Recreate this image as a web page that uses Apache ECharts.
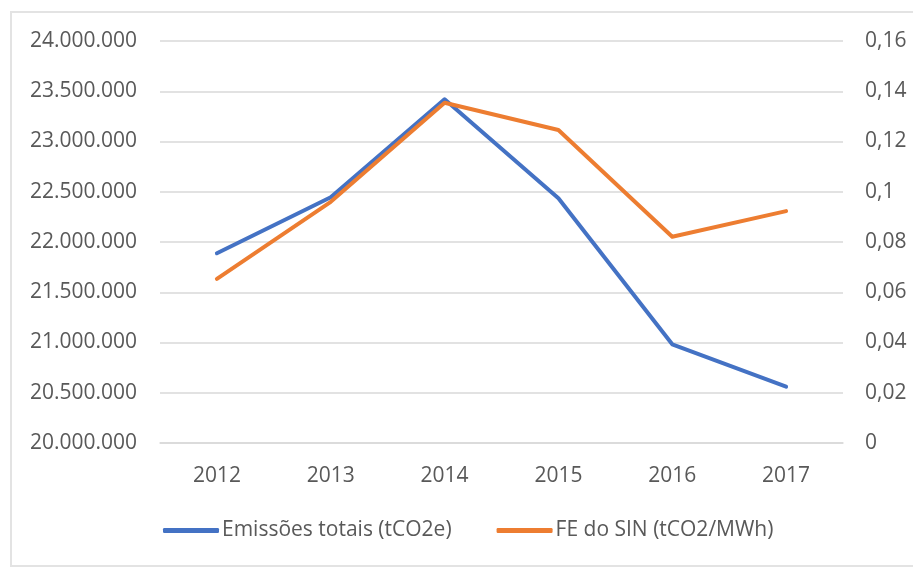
<!DOCTYPE html>
<html>
<head>
<meta charset="utf-8">
<script src="https://cdn.jsdelivr.net/npm/echarts@6/dist/echarts.min.js"></script>
<style>
html,body{margin:0;padding:0;background:#fff;}
#c{width:913px;height:579px;}
</style>
</head>
<body>
<div id="c"></div>
<script>
var categories = ['2012', '2013', '2014', '2015', '2016', '2017'];
var emissoes = [21888000, 22445000, 23420000, 22435000, 20982000, 20560000];
var feSin = [0.0653, 0.0960, 0.1354, 0.1246, 0.0821, 0.0923];
var seriesNames = ['Emissões totais (tCO2e)', 'FE do SIN (tCO2/MWh)'];

var FONT = '"Open Sans", "Liberation Sans", sans-serif';
var TXT = '#595959';

function fmtLeft(v) {
  return String(Math.round(v)).replace(/\B(?=(\d{3})+(?!\d))/g, '.');
}
function fmtRight(v) {
  return String(Math.round(v * 100) / 100).replace('.', ',');
}

var chart = echarts.init(document.getElementById('c'), null, {renderer: 'canvas'});
chart.setOption({
  animation: false,
  backgroundColor: '#fff',
  textStyle: {fontFamily: FONT},
  graphic: [{
    type: 'rect',
    shape: {x: 11, y: 12, width: 910, height: 554},
    style: {fill: 'none', stroke: '#e3e3e3', lineWidth: 2},
    z: -1
  }],
  grid: {left: 160, right: 70, top: 41, bottom: 136},
  legend: {
    left: 163,
    top: 520,
    padding: 0,
    itemWidth: 56,
    itemHeight: 5,
    itemGap: 45,
    icon: 'roundRect',
    textStyle: {color: TXT, fontSize: 21, fontFamily: FONT, padding: [0, 0, 0, -2]},
    data: seriesNames
  },
  xAxis: {
    type: 'category',
    data: categories,
    boundaryGap: true,
    axisLine: {show: true, lineStyle: {color: '#d9d9d9', width: 1.5}},
    axisTick: {show: false},
    axisLabel: {color: TXT, fontSize: 21, fontFamily: FONT, margin: 23}
  },
  yAxis: [{
    type: 'value',
    min: 20000000,
    max: 24000000,
    interval: 500000,
    axisLine: {show: false},
    axisTick: {show: false},
    splitLine: {lineStyle: {color: '#d9d9d9', width: 1.5}},
    axisLabel: {color: TXT, fontSize: 21, fontFamily: FONT, margin: 23, formatter: fmtLeft}
  }, {
    type: 'value',
    min: 0,
    max: 0.16,
    interval: 0.02,
    axisLine: {show: false},
    axisTick: {show: false},
    splitLine: {show: false},
    axisLabel: {color: TXT, fontSize: 21, fontFamily: FONT, margin: 22, formatter: fmtRight}
  }],
  series: [{
    name: seriesNames[0],
    type: 'line',
    yAxisIndex: 0,
    data: emissoes,
    symbol: 'none',
    lineStyle: {color: '#4472C4', width: 4, cap: 'round', join: 'round'},
    itemStyle: {color: '#4472C4'},
    z: 2
  }, {
    name: seriesNames[1],
    type: 'line',
    yAxisIndex: 1,
    data: feSin,
    symbol: 'none',
    lineStyle: {color: '#ED7D31', width: 4, cap: 'round', join: 'round'},
    itemStyle: {color: '#ED7D31'},
    z: 3
  }]
});
</script>
</body>
</html>
